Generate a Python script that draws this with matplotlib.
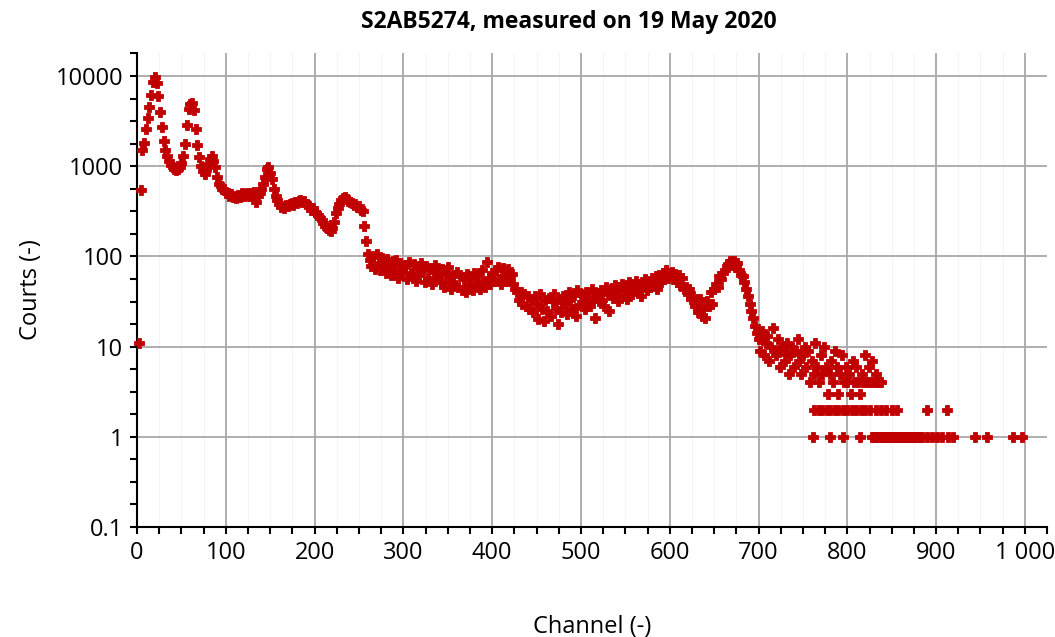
import numpy as np
import matplotlib
matplotlib.use('Agg')
import matplotlib.pyplot as plt
from matplotlib.ticker import FixedLocator, FuncFormatter

plt.rcParams['font.family'] = ['Open Sans', 'DejaVu Sans']
plt.rcParams['font.size'] = 17

title = 'S2AB5274, measured on 19 May 2020'
x_label = 'Channel (-)'
y_label = 'Courts (-)'

# main spectrum, channels 2..698 every 2nd channel
main_ch = np.arange(2, 700, 2)
main_counts = [
    11, 540, 1500, 1800, 2600, 3400, 4500, 6200, 8600, 9700,
    8400, 6000, 4000, 2700, 1900, 1500, 1300, 1150, 1020, 970,
    930, 900, 920, 980, 1080, 1300, 1750, 2900, 4300, 4900,
    5000, 4200, 2600, 1700, 1250, 1000, 880, 820, 900, 1050,
    1200, 1300, 1150, 980, 760, 640, 600, 560, 540, 520,
    500, 470, 490, 450, 470, 440, 480, 460, 500, 470,
    490, 510, 470, 500, 480, 520, 400, 470, 500, 560,
    640, 760, 930, 980, 850, 720, 560, 470, 420, 380,
    350, 360, 340, 370, 360, 380, 390, 370, 400, 390,
    410, 420, 400, 410, 380, 370, 360, 330, 340, 310,
    300, 290, 270, 255, 235, 215, 205, 195, 190, 205,
    240, 300, 340, 380, 420, 440, 450, 430, 410, 400,
    390, 370, 380, 350, 360, 330, 320, 220, 150, 105,
    92, 78, 100, 72, 105, 84, 70, 96, 80, 66,
    94, 74, 62, 88, 70, 92, 58, 84, 68, 76,
    80, 56, 86, 66, 60, 82, 54, 74, 62, 84,
    70, 52, 78, 58, 74, 50, 68, 80, 56, 66,
    54, 72, 46, 64, 76, 52, 44, 62, 48, 68,
    46, 60, 42, 56, 40, 64, 48, 58, 42, 66,
    50, 62, 44, 70, 52, 46, 86, 58, 50, 66,
    54, 70, 76, 56, 50, 74, 62, 54, 72, 60,
    64, 50, 44, 40, 33, 40, 30, 38, 28, 36,
    26, 34, 24, 36, 30, 20, 38, 26, 19, 33,
    25, 35, 22, 32, 38, 27, 18, 34, 24, 36,
    30, 23, 40, 33, 26, 37, 22, 42, 29, 38,
    31, 26, 40, 35, 28, 44, 34, 21, 39, 32,
    42, 33, 28, 46, 38, 25, 44, 35, 48, 39,
    32, 46, 50, 36, 44, 34, 52, 42, 38, 48,
    54, 40, 50, 36, 48, 56, 42, 52, 46, 58,
    48, 60, 44, 62, 52, 66, 56, 70, 58, 64,
    68, 56, 64, 52, 62, 48, 58, 44, 46, 38,
    44, 34, 36, 28, 30, 24, 34, 22, 26, 21,
    32, 28, 40, 30, 44, 50, 46, 60, 56, 66,
    70, 78, 82, 88, 80, 90, 76, 84, 70, 62,
    60, 52, 44, 36, 30, 25, 21, 17, 14,
]

# low-count tail, channels 700..838 every 2nd channel
tail_ch = np.arange(700, 840, 2)
tail_counts = [
    12, 9, 15, 8, 11, 13, 7, 10, 16, 9,
    8, 12, 6, 10, 9, 7, 11, 5, 8, 10,
    6, 9, 12, 7, 5, 8, 10, 6, 9, 4,
    7, 5, 11, 6, 4, 8, 5, 10, 6, 3,
    5, 7, 4, 9, 6, 3, 5, 8, 4, 6,
    4, 5, 3, 7, 4, 6, 4, 3, 5, 4,
    8, 4, 6, 4, 7, 4, 5, 4, 4, 4,
]

# single and double counts above ~760
twos_ch = [763, 768, 772, 777, 781, 786, 790, 795, 800, 805, 810, 815, 820,
           826, 832, 838, 844, 850, 856, 890, 912]
ones_ch = [761, 780, 795, 814, 828, 830, 832, 834, 836, 838, 840, 842, 844,
           846, 848, 850, 852, 854, 856, 858, 860, 862, 864, 866, 868, 870,
           872, 874, 876, 878, 880, 882, 884, 890, 895, 901, 907, 913, 919,
           944, 957, 987, 997]

color = '#c00000'

fig = plt.figure(figsize=(10.55, 6.37), dpi=100)
ax = fig.add_axes([0.1299, 0.1727, 0.8626, 0.7441])

kw = dict(linestyle='none', marker='P', markersize=7.5, markeredgewidth=0.6,
          color=color, zorder=3, clip_on=False)
ax.plot(main_ch, main_counts, **kw)
ax.plot(tail_ch, tail_counts, **kw)
ax.plot(twos_ch, [2] * len(twos_ch), **kw)
ax.plot(ones_ch, [1] * len(ones_ch), **kw)

ax.set_yscale('log')
ax.set_xlim(0, 1025)
ax.set_ylim(0.1, 18000)

yt = [0.1, 1, 10, 100, 1000, 10000]
ax.yaxis.set_major_locator(FixedLocator(yt))
ax.yaxis.set_major_formatter(FuncFormatter(lambda v, p: f'{v:g}'))
ax.yaxis.set_minor_locator(FixedLocator(
    [10 ** (k + f) for k in range(-1, 5) for f in (0.25, 0.5, 0.75)]))
ax.yaxis.set_minor_formatter(FuncFormatter(lambda v, p: ''))

ax.xaxis.set_major_locator(FixedLocator(range(0, 1001, 100)))
ax.xaxis.set_minor_locator(FixedLocator(range(0, 1026, 25)))
ax.xaxis.set_major_formatter(FuncFormatter(lambda v, p: f'{int(v):,}'.replace(',', ' ')))

ax.grid(True, which='major', color='#a8a8a8', linewidth=1.3, zorder=0)
ax.grid(True, which='minor', axis='x', color='#f4f4f4', linewidth=0.8, zorder=0)
ax.set_axisbelow(True)

for s in ('top', 'right'):
    ax.spines[s].set_visible(False)
for s in ('left', 'bottom'):
    ax.spines[s].set_linewidth(1.5)
    ax.spines[s].set_color('black')

ax.tick_params(which='both', direction='out', length=5, width=1.5, colors='black')
ax.tick_params(which='major', labelsize=17, pad=5)

ax.set_xlabel(x_label, fontsize=17, labelpad=36)
ax.set_ylabel(y_label, fontsize=17, labelpad=9)
ax.set_title(title, fontsize=16.5, fontweight='bold', pad=18, x=0.474)

fig.savefig('out.png', dpi=100)
